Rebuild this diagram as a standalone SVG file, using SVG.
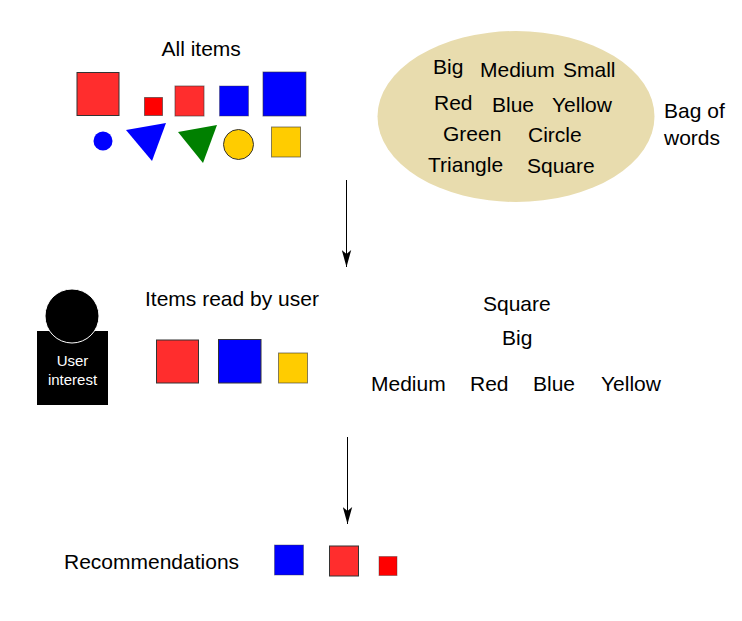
<svg xmlns="http://www.w3.org/2000/svg" width="742" height="621" viewBox="0 0 742 621">
<style>
text{font-family:"Liberation Sans",Arial,sans-serif;font-size:21px;fill:#000}
.s{stroke:#333;stroke-width:1}
.r{fill:#ff2d2d}.b{fill:#0000ff}.y{fill:#ffcc00}.p{fill:#ff0000}
.w{font-size:15px;fill:#fff}
</style>
<defs>
<marker id="h" markerUnits="userSpaceOnUse" markerWidth="18" markerHeight="10" refX="17" refY="5" orient="auto" viewBox="0 0 18 10"><path d="M0 0.300 L17 5 L0 9.700 L4 5 Z" fill="#000"/></marker></defs>
<rect width="742" height="621" fill="#fff"/>
<g id="all-items">
<text x="161.500" y="55.500">All items</text>
<rect class="s r" x="77" y="72.500" width="42" height="43"/>
<rect class="s p" x="144.500" y="97.500" width="18" height="18" stroke-opacity=".6"/>
<rect class="s r" x="175" y="86" width="29" height="30" stroke-opacity=".6"/>
<rect class="s b" x="219.500" y="86" width="29" height="30" stroke-opacity=".4"/>
<rect class="s b" x="263" y="72" width="43" height="44" stroke-opacity=".6"/>
<circle class="b" cx="103" cy="141" r="9.500"/>
<path class="b" d="M126 130L166 123L152 161Z"/>
<path fill="#008000" d="M178 132L217 125L203 163Z"/>
<circle class="s y" cx="238.500" cy="144.500" r="15"/>
<rect class="s y" x="271.500" y="127" width="29" height="30" stroke-opacity=".6"/>
</g>
<g id="bag-of-words">
<ellipse cx="516" cy="116.500" rx="138.500" ry="85.500" fill="#e8dcae"/>
<text x="433" y="74">Big</text><text x="480" y="76.500">Medium</text><text x="563" y="76.500">Small</text>
<text x="434" y="109.500">Red</text><text x="492" y="111.500">Blue</text><text x="552" y="111.500">Yellow</text>
<text x="443" y="141">Green</text><text x="528" y="141.500">Circle</text>
<text x="428" y="172">Triangle</text><text x="527" y="172.500">Square</text>
<text x="664" y="118">Bag of</text><text x="664" y="145">words</text>
</g>
<g id="user">
<rect x="37" y="331" width="71" height="74" fill="#000"/>
<circle cx="72" cy="316" r="27" fill="#000" stroke="#fff" stroke-width="1"/>
<text x="72.500" y="366" text-anchor="middle" class="w">User</text>
<text x="72.500" y="385" text-anchor="middle" class="w">interest</text>
</g>
<g id="items-read">
<text x="145" y="305.500">Items read by user</text>
<rect class="s r" x="156.500" y="340" width="42" height="43"/>
<rect class="s b" x="218.500" y="339.500" width="42.500" height="43.500"/>
<rect class="s y" x="278.500" y="353" width="29" height="30" stroke-opacity=".6"/>
</g>
<g id="user-words">
<text x="483" y="310.500">Square</text><text x="502" y="345">Big</text>
<text x="371" y="390.500">Medium</text><text x="470" y="390.500">Red</text><text x="533" y="390.500">Blue</text><text x="601" y="390.500">Yellow</text>
</g>
<g id="recommendations">
<text x="64" y="568.500">Recommendations</text>
<rect class="s b" x="274.500" y="545" width="29" height="30" stroke-opacity=".4"/>
<rect class="s r" x="329.500" y="546" width="29" height="30"/>
<rect class="s p" x="379" y="556.500" width="18" height="19" stroke-opacity=".4"/>
</g>
<g id="connectors">
<line x1="346.500" y1="180" x2="346.500" y2="267" stroke="#000" marker-end="url(#h)"/>
<line x1="347.500" y1="437" x2="347.500" y2="524" stroke="#000" marker-end="url(#h)"/>
</g>
</svg>
